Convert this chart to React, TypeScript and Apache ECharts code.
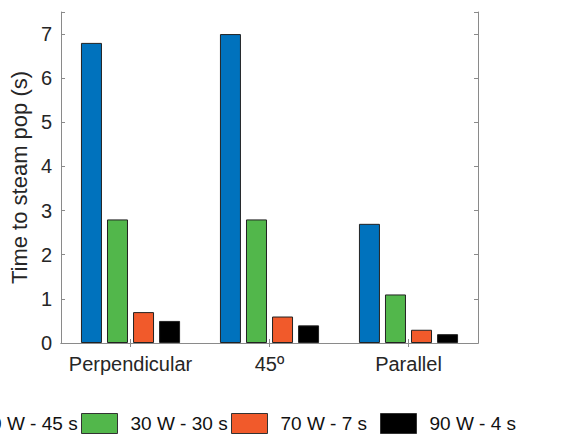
import React, { useEffect, useRef } from "react";
import * as echarts from "echarts";

const categories = ["Perpendicular", "45º", "Parallel"];
const seriesNames = ["10 W - 45 s", "30 W - 30 s", "70 W - 7 s", "90 W - 4 s"];
const s10W = [6.8, 7.0, 2.7];
const s30W = [2.8, 2.8, 1.1];
const s70W = [0.7, 0.6, 0.3];
const s90W = [0.5, 0.4, 0.2];
const colors = ["#0072BD", "#52B74B", "#F15A2B", "#000000"];
const yTicks = [0, 1, 2, 3, 4, 5, 6, 7];

export default function App() {
  const ref = useRef<HTMLDivElement>(null);
  useEffect(() => {
    if (!ref.current) return;
    const chart = echarts.init(ref.current, undefined, { renderer: "svg" });
    const font = "Liberation Sans, Arial, Helvetica, sans-serif";
    const axisColor = "#8a8a8a";
    const values = [s10W, s30W, s70W, s90W];
    const legendLefts = [-69, 81, 231, 380];
    chart.setOption({
      animation: false,
      backgroundColor: "#ffffff",
      textStyle: { fontFamily: font },
      grid: { left: 57, right: 101, top: 12, bottom: 95, containLabel: false },
      legend: seriesNames.map((name, i) => ({
        left: legendLefts[i],
        top: 413,
        padding: 0,
        orient: "horizontal",
        itemWidth: 36,
        itemHeight: 20,
        icon: "rect",
        data: [name],
        textStyle: {
          fontSize: 19,
          color: "#111111",
          fontFamily: font,
          padding: [0, 0, 0, 8],
        },
        itemStyle: { borderColor: "#333333", borderWidth: 1 },
      })),
      xAxis: [
        {
          type: "category",
          data: categories,
          position: "bottom",
          axisLine: { show: true, lineStyle: { color: axisColor, width: 1 } },
          axisTick: { show: true, inside: true, alignWithLabel: true, interval: 0, length: 4, lineStyle: { color: axisColor } },
          axisLabel: { color: "#262626", fontSize: 20, margin: 11, interval: 0, fontFamily: font },
          splitLine: { show: false },
        },
        {
          type: "category",
          data: categories,
          position: "top",
          axisLine: { show: true, lineStyle: { color: axisColor, width: 1 } },
          axisTick: { show: true, inside: true, alignWithLabel: true, interval: 0, length: 4, lineStyle: { color: axisColor } },
          axisLabel: { show: false, interval: 0 },
          splitLine: { show: false },
        },
      ],
      yAxis: [
        {
          type: "value",
          min: 0,
          max: 7.5,
          interval: 1,
          name: "Time to steam pop (s)",
          nameLocation: "middle",
          nameGap: 25,
          nameTextStyle: { fontSize: 22, color: "#262626", fontFamily: font },
          axisLine: { show: true, lineStyle: { color: axisColor, width: 1 } },
          axisTick: { show: true, inside: true, length: 4, lineStyle: { color: axisColor } },
          axisLabel: {
            color: "#262626",
            fontSize: 20,
            margin: 9,
            fontFamily: font,
            formatter: (v: number) => (yTicks.includes(v) ? String(v) : ""),
          },
          splitLine: { show: false },
        },
        {
          type: "value",
          min: 0,
          max: 7.5,
          interval: 1,
          position: "right",
          axisLine: { show: true, lineStyle: { color: axisColor, width: 1 } },
          axisTick: { show: true, inside: true, length: 4, lineStyle: { color: axisColor } },
          axisLabel: { show: false },
          splitLine: { show: false },
        },
      ],
      series: seriesNames.map((name, i) => ({
        name,
        type: "bar",
        data: values[i],
        barWidth: 21,
        barGap: "24%",
        itemStyle: { color: colors[i], borderColor: "#222222", borderWidth: 1 },
      })),
    });
    return () => chart.dispose();
  }, []);
  return <div ref={ref} style={{ width: 579, height: 438, position: "absolute", left: 0, top: 0 }} />;
}
